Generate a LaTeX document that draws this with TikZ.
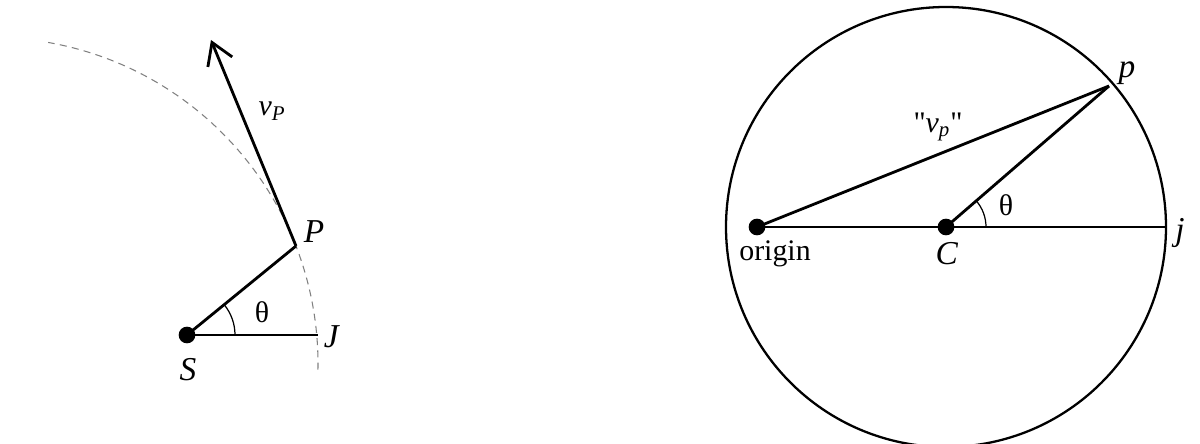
\documentclass[tikz,border=0pt]{standalone}
\usepackage{fontspec}
\setmainfont{Liberation Serif}
\usetikzlibrary{arrows.meta}
\begin{document}
\begin{tikzpicture}[x=0.02cm,y=0.02cm,
  thick line/.style={line width=1.6pt},
  thin circle/.style={line width=1.3pt},
  orbit/.style={gray,line width=0.6pt,dash pattern=on 4pt off 3pt},
  dotpt/.style={circle,fill=black,inner sep=0pt,minimum size=9.5pt},
  lbl/.style={inner sep=1pt,font=\fontsize{17}{20}\selectfont},
  biglbl/.style={inner sep=1pt,font=\fontsize{19}{22}\selectfont},
  angarc/.style={line width=0.7pt}]
\useasboundingbox (0,0) rectangle (1200,443);
% ---------- left figure ----------
\node[dotpt] (S) at (187,108) {};
\coordinate (J) at (318,108);
\coordinate (P) at (296,197);
\coordinate (V) at (211,403);
\draw[orbit] (-8.5,79) ++(-1:326.5) arc[start angle=-1,end angle=80,radius=326.5];
\draw[thick line] (S.center) -- (J);
\draw[thick line] (S.center) -- (P);
\draw[thick line,-{Straight Barb[length=12pt,width=15pt,line width=1.6pt]}] (P) -- (V);
\draw[angarc] (S.center) ++(0:48) arc[start angle=0,end angle=39.2,radius=48];
\node[lbl] (th1) at (262,131) {θ};
\node[biglbl] (Slbl) at (188,73) {\textit{S}};
\node[biglbl] (Jlbl) at (332,106) {\textit{J}};
\node[biglbl] (Plbl) at (314,211) {\textit{P}};
\node[lbl] (vP) at (272,332) {\textit{ν}\textsubscript{\textit{P}}};
% ---------- right figure ----------
\node[dotpt] (O) at (757,216) {};
\node[dotpt] (C) at (946,216) {};
\coordinate (j) at (1166,216);
\coordinate (p) at (1109,357);
\draw[thin circle] (C.center) circle[radius=220];
\draw[thick line] (O.center) -- (j);
\draw[thick line] (O.center) -- (p);
\draw[thick line] (C.center) -- (p);
\draw[angarc] (C.center) ++(0:40) arc[start angle=0,end angle=40.7,radius=40];
\node[lbl] (th2) at (1006,238) {θ};
\node[lbl] (Olbl) at (775,189) {origin};
\node[biglbl] (Clbl) at (947,189) {\textit{C}};
\node[biglbl] (jlbl) at (1180,210) {\textit{j}};
\node[biglbl] (plbl) at (1127,370) {\textit{p}};
\node[lbl] (vp) at (938,316) {\textquotedbl\textit{ν}\textsubscript{\textit{p}}\textquotedbl};
\end{tikzpicture}
\end{document}
